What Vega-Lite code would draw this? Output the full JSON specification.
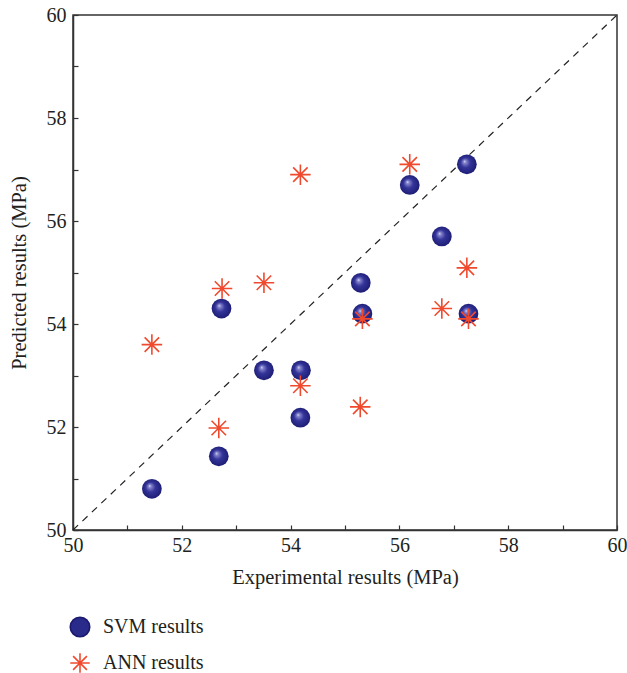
{
  "$schema": "https://vega.github.io/schema/vega-lite/v6.json",
  "width": 544,
  "height": 515,
  "autosize": "none",
  "padding": {"left": 73, "top": 15, "right": 10, "bottom": 143},
  "background": "white",
  "config": {
    "view": {"stroke": "#333333", "strokeWidth": 1.5},
    "axis": {
      "grid": false,
      "labelFlush": false,
      "domainColor": "#333333",
      "domainWidth": 1.5,
      "tickColor": "#333333",
      "tickWidth": 1.2,
      "tickSize": -5,
      "labelFont": "Liberation Serif",
      "labelFontSize": 20,
      "labelColor": "#231f20",
      "titleFont": "Liberation Serif",
      "titleFontSize": 20.5,
      "titleFontWeight": "normal",
      "titleColor": "#231f20"
    },
    "legend": {
      "labelFont": "Liberation Serif",
      "labelFontSize": 20,
      "labelColor": "#231f20"
    }
  },
  "datasets": {
    "diag": [
      {"exp": 50, "pred": 50},
      {"exp": 60, "pred": 60}
    ],
    "svm": [
      {"exp": 51.45, "pred": 50.8},
      {"exp": 52.68, "pred": 51.43},
      {"exp": 52.73, "pred": 54.3},
      {"exp": 53.51, "pred": 53.1},
      {"exp": 54.19, "pred": 53.1},
      {"exp": 54.18, "pred": 52.18},
      {"exp": 55.29, "pred": 54.8},
      {"exp": 55.32, "pred": 54.2},
      {"exp": 56.19, "pred": 56.7},
      {"exp": 56.78, "pred": 55.7},
      {"exp": 57.24, "pred": 57.1},
      {"exp": 57.27, "pred": 54.2}
    ],
    "ann": [
      {"exp": 51.45, "pred": 53.6, "series": "ANN results"},
      {"exp": 52.68, "pred": 51.98, "series": "ANN results"},
      {"exp": 52.74, "pred": 54.69, "series": "ANN results"},
      {"exp": 53.51, "pred": 54.8, "series": "ANN results"},
      {"exp": 54.18, "pred": 56.9, "series": "ANN results"},
      {"exp": 54.18, "pred": 52.8, "series": "ANN results"},
      {"exp": 55.28, "pred": 52.39, "series": "ANN results"},
      {"exp": 55.32, "pred": 54.1, "series": "ANN results"},
      {"exp": 56.19, "pred": 57.1, "series": "ANN results"},
      {"exp": 56.78, "pred": 54.3, "series": "ANN results"},
      {"exp": 57.24, "pred": 55.09, "series": "ANN results"},
      {"exp": 57.27, "pred": 54.1, "series": "ANN results"}
    ]
  },
  "encoding": {
    "x": {
      "field": "exp", "type": "quantitative",
      "scale": {"domain": [50, 60], "nice": false, "zero": false},
      "axis": {
        "title": "Experimental results (MPa)",
        "values": [50, 51, 52, 53, 54, 55, 56, 57, 58, 59, 60],
        "labelExpr": "datum.value % 2 == 0 ? datum.label : ''",
        "labelPadding": 10,
        "titlePadding": 12
      }
    },
    "y": {
      "field": "pred", "type": "quantitative",
      "scale": {"domain": [50, 60], "nice": false, "zero": false},
      "axis": {
        "title": "Predicted results (MPa)",
        "values": [50, 51, 52, 53, 54, 55, 56, 57, 58, 59, 60],
        "labelExpr": "datum.value % 2 == 0 ? datum.label : ''",
        "labelPadding": 12,
        "titlePadding": 17
      }
    }
  },
  "layer": [
    {
      "data": {"name": "diag"},
      "mark": {"type": "line", "strokeDash": [7, 6], "color": "#222222", "strokeWidth": 1.2},
      "encoding": {}
    },
    {
      "data": {"name": "svm"},
      "mark": {
        "type": "point",
        "shape": "circle",
        "filled": true,
        "size": 390,
        "opacity": 1,
        "fill": {
          "gradient": "radial",
          "x1": 0.38, "y1": 0.35, "r1": 0,
          "x2": 0.5, "y2": 0.5, "r2": 0.55,
          "stops": [
            {"offset": 0, "color": "#f0f0ff"},
            {"offset": 0.12, "color": "#8a8ad0"},
            {"offset": 0.45, "color": "#34349a"},
            {"offset": 1, "color": "#1a1a70"}
          ]
        }
      }
    },
    {
      "data": {"name": "ann"},
      "mark": {"type": "point", "filled": false, "size": 420, "strokeWidth": 1.6, "opacity": 1},
      "encoding": {
        "shape": {
          "field": "series", "type": "nominal",
          "scale": {
            "domain": ["SVM results", "ANN results"],
            "range": ["circle", "M0,-1L0,1M-1,0L1,0M-0.707,-0.707L0.707,0.707M-0.707,0.707L0.707,-0.707"]
          },
          "legend": {
            "orient": "none",
            "legendX": -4,
            "legendY": 601,
            "title": null,
            "padding": 0,
            "rowPadding": 10,
            "labelOffset": 12,
            "symbolSize": 380,
            "symbolStrokeWidth": 1.6
          }
        },
        "fill": {
          "field": "series", "type": "nominal",
          "scale": {
            "domain": ["SVM results", "ANN results"],
            "range": ["#2a2a8a", "transparent"]
          },
          "legend": null
        },
        "stroke": {
          "field": "series", "type": "nominal",
          "scale": {
            "domain": ["SVM results", "ANN results"],
            "range": ["#1a1a70", "#f04a2e"]
          },
          "legend": null
        }
      }
    }
  ]
}
